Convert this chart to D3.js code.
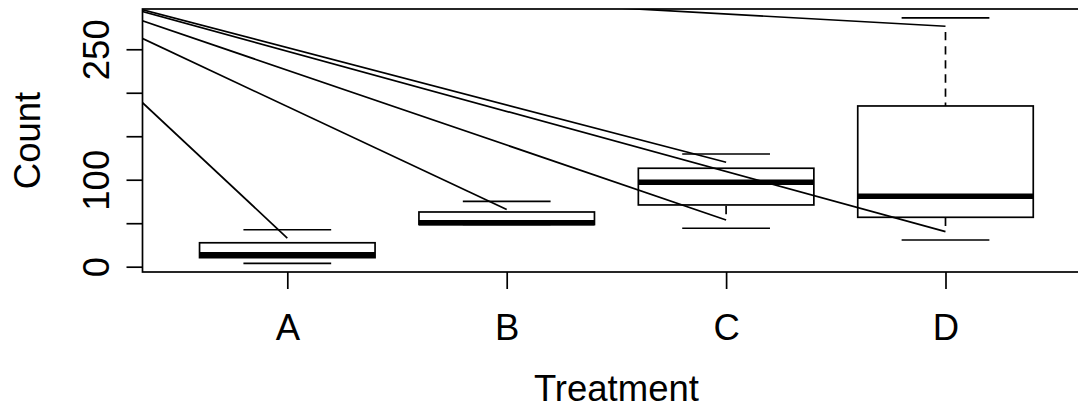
<!DOCTYPE html>
<html>
<head>
<meta charset="utf-8">
<script src="https://cdn.jsdelivr.net/npm/d3@7"></script>
<style>
  body { margin: 0; background: #fff; }
  svg { display: block; font-family: "Liberation Sans", Arial, sans-serif; }
</style>
</head>
<body>
<div class="chart"></div>
<script>
// box statistics per treatment
let groups = ['A', 'B', 'C', 'D']
let whiskerLow = [3.9, 48.5, 44.2, 30.7]
let q1 = [10.4, 48.5, 71, 56.8]
let median = [13.8, 50.5, 97.2, 81.1]
let q3 = [27.5, 62.9, 113.2, 184.8]
let whiskerHigh = [42.5, 75.2, 129.6, 286]

// the stray lines all run from one point off the plot to the first dash of each whisker
let strayFrom = [-0.29, 337]

let yTicks = [0, 50, 100, 150, 200, 250]
let yLabelled = [0, 100, 250]

let xLim = [0.34, 4.66],
    yLim = [-6.1, 296.3]

let width = 1078,
    height = 410,
    plotLeft = 142.5,
    plotTop = 9,
    plotW = 947.8,
    plotH = 263

let lw = 1.7,
    dashOn = 8.3,
    dashOff = 5.8,
    fontSize = 36.5

let x = d3.scaleLinear().domain(xLim).range([plotLeft, plotLeft + plotW])
let y = d3.scaleLinear().domain(yLim).range([plotTop + plotH, plotTop])

let svg = d3.select('.chart').append('svg')
    .attr('width', width)
    .attr('height', height)

svg.append('clipPath').attr('id', 'plot')
    .append('rect')
    .attr('x', plotLeft).attr('y', plotTop)
    .attr('width', plotW).attr('height', plotH)

let g = svg.append('g').attr('clip-path', 'url(#plot)')

groups.forEach(function(name, i) {
    let cx = x(i + 1)
    let whiskers = [[whiskerHigh[i], q3[i]], [whiskerLow[i], q1[i]]]

    whiskers.forEach(function(w) {
        let y0 = y(w[0]), y1 = y(w[1])
        let len = Math.abs(y1 - y0), dir = Math.sign(y1 - y0)
        if (len < dashOn) return
        g.append('line')
            .attr('x1', x(strayFrom[0])).attr('y1', y(strayFrom[1]))
            .attr('x2', cx).attr('y2', y0 + dir * dashOn)
            .attr('stroke', '#000').attr('stroke-width', lw)
        if (len > dashOn + dashOff) {
            g.append('line')
                .attr('x1', cx).attr('y1', y0 + dir * (dashOn + dashOff))
                .attr('x2', cx).attr('y2', y1)
                .attr('stroke', '#000').attr('stroke-width', lw)
                .attr('stroke-dasharray', dashOn + ',' + dashOff)
        }
    })

    // staples
    ;[whiskerLow[i], whiskerHigh[i]].forEach(function(v) {
        g.append('line')
            .attr('x1', x(i + 1 - 0.2)).attr('x2', x(i + 1 + 0.2))
            .attr('y1', y(v)).attr('y2', y(v))
            .attr('stroke', '#000').attr('stroke-width', lw)
    })

    g.append('rect')
        .attr('x', x(i + 1 - 0.4))
        .attr('y', y(q3[i]))
        .attr('width', x(i + 1 + 0.4) - x(i + 1 - 0.4))
        .attr('height', y(q1[i]) - y(q3[i]))
        .attr('fill', 'none')
        .attr('stroke', '#000').attr('stroke-width', lw)

    g.append('line')
        .attr('x1', x(i + 1 - 0.4)).attr('x2', x(i + 1 + 0.4))
        .attr('y1', y(median[i])).attr('y2', y(median[i]))
        .attr('stroke', '#000').attr('stroke-width', 5.5)
})

// frame
svg.append('rect')
    .attr('x', plotLeft).attr('y', plotTop)
    .attr('width', plotW).attr('height', plotH)
    .attr('fill', 'none')
    .attr('stroke', '#000').attr('stroke-width', lw)

let yAxis = svg.append('g')
    .attr('transform', 'translate(' + plotLeft + ',0)')
    .call(d3.axisLeft(y).tickValues(yTicks).tickSize(16)
        .tickFormat(function(d) { return yLabelled.indexOf(d) >= 0 ? d : '' }))

yAxis.selectAll('text')
    .attr('transform', 'rotate(-90)')
    .attr('x', 0).attr('y', -34).attr('dy', 0)
    .style('text-anchor', 'middle')

let xAxis = svg.append('g')
    .attr('transform', 'translate(0,' + (plotTop + plotH) + ')')
    .call(d3.axisBottom(x).tickValues([1, 2, 3, 4]).tickSize(17)
        .tickFormat(function(d, i) { return groups[i] }))

xAxis.selectAll('text').attr('y', 68).attr('dy', 0)

svg.selectAll('.domain').remove()
svg.selectAll('.tick line').attr('stroke', '#000').attr('stroke-width', lw)
svg.selectAll('.tick text')
    .attr('fill', '#000')
    .style('font-size', fontSize + 'px')
    .style('font-family', '"Liberation Sans", Arial, sans-serif')

svg.append('text')
    .attr('transform', 'translate(40,' + (plotTop + plotH / 2) + ') rotate(-90)')
    .attr('text-anchor', 'middle')
    .style('font-size', fontSize + 'px')
    .text('Count')

svg.append('text')
    .attr('x', plotLeft + plotW / 2)
    .attr('y', 401)
    .attr('text-anchor', 'middle')
    .style('font-size', fontSize + 'px')
    .text('Treatment')
</script>
</body>
</html>
